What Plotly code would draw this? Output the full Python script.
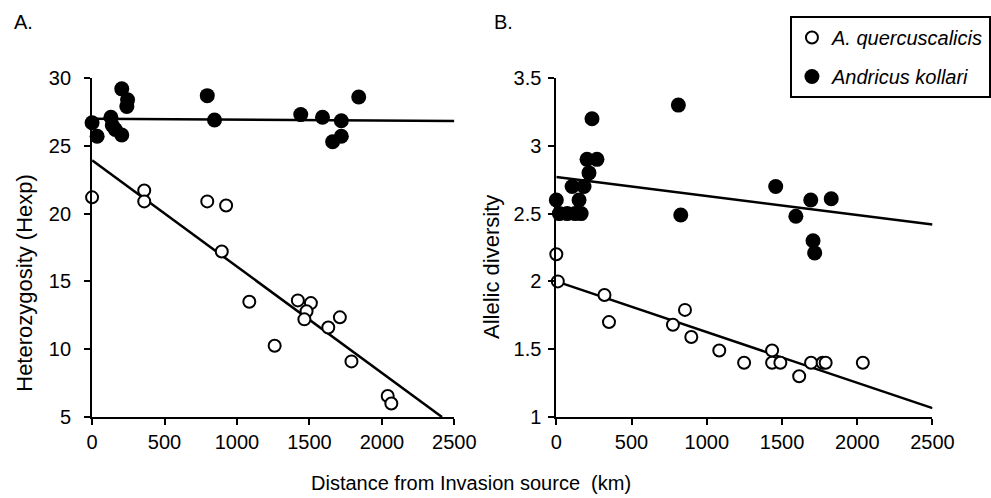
import plotly.graph_objects as go

# ---------------- data ----------------
# Panel A: heterozygosity (Hexp) vs distance (km)
a_open_x = [0, 360, 360, 795, 925, 895, 1085, 1420, 1510, 1480, 1465, 1630, 1710, 1260, 1790, 2040, 2065]
a_open_y = [21.2, 21.7, 20.9, 20.9, 20.6, 17.2, 13.5, 13.6, 13.4, 12.8, 12.2, 11.6, 12.35, 10.25, 9.1, 6.55, 6.0]
a_fill_x = [0, 35, 130, 140, 160, 205, 205, 245, 240, 795, 845, 1440, 1590, 1720, 1720, 1660, 1840]
a_fill_y = [26.7, 25.7, 27.1, 26.5, 26.2, 25.8, 29.2, 28.4, 27.9, 28.7, 26.9, 27.3, 27.1, 26.85, 25.7, 25.3, 28.6]
a_open_fit = (23.93, -0.00784)   # intercept, slope
a_fill_fit = (27.0, -0.00007)

# Panel B: allelic diversity vs distance (km)
b_open_x = [0, 10, 320, 350, 775, 855, 897, 1083, 1248, 1434, 1434, 1489, 1614, 1693, 1770, 1790, 2037]
b_open_y = [2.2, 2.0, 1.9, 1.7, 1.68, 1.79, 1.59, 1.49, 1.40, 1.49, 1.40, 1.40, 1.30, 1.40, 1.40, 1.40, 1.40]
b_fill_x = [0, 20, 72, 125, 165, 151, 105, 184, 217, 204, 270, 237, 811, 827, 1458, 1691, 1827, 1592, 1706, 1717]
b_fill_y = [2.6, 2.5, 2.5, 2.5, 2.5, 2.6, 2.7, 2.7, 2.8, 2.9, 2.9, 3.2, 3.3, 2.49, 2.7, 2.6, 2.61, 2.48, 2.3, 2.21]
b_open_fit = (2.0, -0.000374)
b_fill_fit = (2.77, -0.00014)

x_range = [0, 2500]
a_range = [5, 30]
b_range = [1, 3.5]
x_ticks = [0, 500, 1000, 1500, 2000, 2500]

series_names = ["A. quercuscalicis", "Andricus kollari"]

# ---------------- figure ----------------
W, H = 991, 498
FONT = "Liberation Sans, Arial, sans-serif"


def fit_line(fit, ymin):
    b0, b1 = fit
    x_end = x_range[1]
    if b0 + b1 * x_end < ymin:
        x_end = (ymin - b0) / b1
    return [0, x_end], [b0, b0 + b1 * x_end]


fig = go.Figure()

for fit, xa, ya, ymin in [(a_open_fit, "x", "y", a_range[0]), (a_fill_fit, "x", "y", a_range[0]),
                          (b_open_fit, "x2", "y2", b_range[0]), (b_fill_fit, "x2", "y2", b_range[0])]:
    lx, ly = fit_line(fit, ymin)
    fig.add_trace(go.Scatter(x=lx, y=ly, mode="lines", line=dict(color="black", width=2.5),
                             xaxis=xa, yaxis=ya, showlegend=False, hoverinfo="skip"))

open_marker = dict(symbol="circle", size=12, color="white", line=dict(color="black", width=2))
fill_marker = dict(symbol="circle", size=15, color="black", line=dict(color="black", width=0))

fig.add_trace(go.Scatter(x=a_fill_x, y=a_fill_y, mode="markers", marker=fill_marker, cliponaxis=False,
                         name=series_names[1], legendgroup="k", showlegend=False))
fig.add_trace(go.Scatter(x=a_open_x, y=a_open_y, mode="markers", marker=open_marker, cliponaxis=False,
                         name=series_names[0], legendgroup="q", showlegend=False))
fig.add_trace(go.Scatter(x=b_fill_x, y=b_fill_y, mode="markers", marker=fill_marker, cliponaxis=False,
                         xaxis="x2", yaxis="y2", name=f"<i>{series_names[1]}</i>", legendgroup="k",
                         legendrank=2))
fig.add_trace(go.Scatter(x=b_open_x, y=b_open_y, mode="markers", marker=open_marker, cliponaxis=False,
                         xaxis="x2", yaxis="y2", name=f"<i>{series_names[0]}</i>", legendgroup="q",
                         legendrank=1))

ydom = [1 - 417 / H, 1 - 78 / H]
axis_common = dict(showline=True, linecolor="black", linewidth=2, ticks="outside", ticklen=6,
                   tickwidth=2, tickcolor="black", showgrid=False, zeroline=False,
                   tickfont=dict(family=FONT, size=20, color="black"), automargin=False)

fig.update_layout(
    width=W, height=H,
    margin=dict(l=0, r=0, t=0, b=0),
    paper_bgcolor="white", plot_bgcolor="white",
    font=dict(family=FONT, color="black"),
    xaxis=dict(domain=[93 / W, 459 / W], range=x_range, tickvals=x_ticks, anchor="y", **axis_common),
    yaxis=dict(domain=ydom, range=a_range, dtick=5, anchor="x", ticklabelstandoff=9, **axis_common),
    xaxis2=dict(domain=[562 / W, 942 / W], range=x_range, tickvals=x_ticks, anchor="y2", **axis_common),
    yaxis2=dict(domain=ydom, range=b_range, dtick=0.5, anchor="x2", ticklabelstandoff=3, **axis_common),
    legend=dict(x=798 / W, y=1 - 16 / H, xanchor="left", yanchor="top",
                bordercolor="black", borderwidth=2, bgcolor="white",
                font=dict(family=FONT, size=20, color="black"),
                itemwidth=30, traceorder="grouped", tracegroupgap=10),
    showlegend=True,
    annotations=[
        dict(text="A.", x=12 / W, y=1 - 22 / H, xref="paper", yref="paper", xanchor="left",
             yanchor="middle", showarrow=False, font=dict(size=20)),
        dict(text="B.", x=497 / W, y=1 - 22 / H, xref="paper", yref="paper", xanchor="left",
             yanchor="middle", showarrow=False, font=dict(size=20)),
        dict(text="Heterozygosity (Hexp)", x=24 / W, y=1 - 283 / H, xref="paper", yref="paper",
             xanchor="center", yanchor="middle", textangle=-90, showarrow=False, font=dict(size=22)),
        dict(text="Allelic diversity", x=496 / W, y=1 - 267 / H, xref="paper", yref="paper",
             xanchor="center", yanchor="middle", textangle=-90, showarrow=False, font=dict(size=22)),
        dict(text="Distance from Invasion source  (km)", x=476 / W, y=1 - 483 / H, xref="paper",
             yref="paper", xanchor="center", yanchor="middle", showarrow=False, font=dict(size=20)),
    ],
)

fig.write_html("out.html")
